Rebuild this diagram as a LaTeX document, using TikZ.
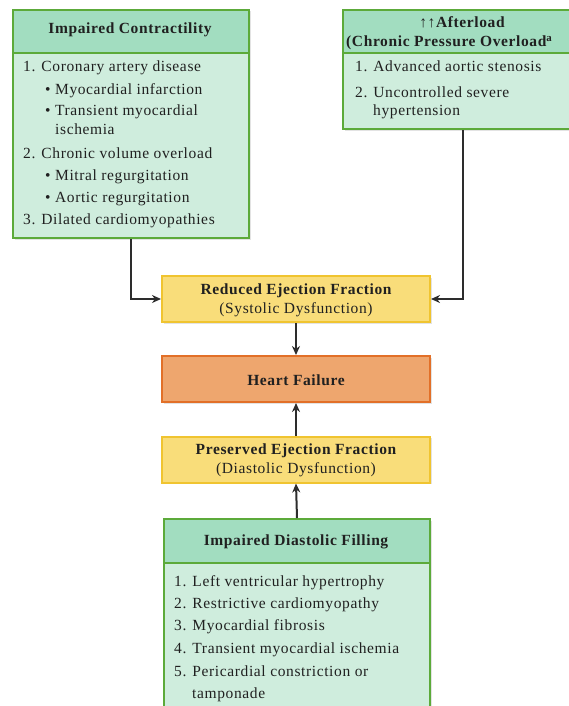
\documentclass[tikz,border=0pt]{standalone}
\usepackage{fontspec}
\setmainfont{Liberation Serif}[LetterSpace=4]
\usetikzlibrary{arrows.meta,shadows}
\definecolor{hdrgreen}{RGB}{162,221,192}
\definecolor{bodygreen}{RGB}{207,237,221}
\definecolor{boxgreen}{RGB}{92,170,58}
\definecolor{yfill}{RGB}{249,221,122}
\definecolor{yborder}{RGB}{240,196,48}
\definecolor{ofill}{RGB}{238,166,110}
\definecolor{oborder}{RGB}{226,112,40}
\definecolor{textc}{RGB}{32,32,32}
\definecolor{arrc}{RGB}{45,45,45}
\tikzset{
  shad/.style={drop shadow={opacity=0.22,shadow xshift=1.5pt,shadow yshift=-1.5pt}},
  gbody/.style={draw=boxgreen,line width=2pt,fill=bodygreen,inner sep=0pt,shad},
  ghdr/.style={draw=boxgreen,line width=2pt,fill=hdrgreen,inner sep=0pt},
  ybox/.style={draw=yborder,line width=2pt,fill=yfill,inner sep=0pt,shad,minimum width=268pt,minimum height=46pt},
  obox/.style={draw=oborder,line width=2pt,fill=ofill,inner sep=0pt,shad,minimum width=268pt,minimum height=46pt},
  txt/.style={inner sep=0pt,text=textc,font=\fontsize{15.5}{18}\selectfont},
  btxt/.style={txt,font=\fontsize{15.5}{18}\selectfont\bfseries},
  arr/.style={draw=arrc,line width=2pt,-{Stealth[length=9pt,width=8pt]}}
}
\begin{document}
\begin{tikzpicture}[x=1pt,y=-1pt]
\useasboundingbox (0,0) rectangle (568,706);
% Impaired Contractility
\node[gbody,minimum width=236pt,minimum height=228pt,anchor=north west] (ic) at (12,9) {};
\node[ghdr,minimum width=236pt,minimum height=43pt,anchor=north west] (ich) at (12,9) {};
\node[btxt,anchor=base] (icht) at (130,34) {Impaired Contractility};
\node[txt,anchor=base west] (ic1) at (23,72) {1. Coronary artery disease};
\node[txt,anchor=base west] (ic2) at (45,95) {• Myocardial infarction};
\node[txt,anchor=base west] (ic3) at (45,116) {• Transient myocardial};
\node[txt,anchor=base west] (ic4) at (55,134) {ischemia};
\node[txt,anchor=base west] (ic5) at (23,158) {2. Chronic volume overload};
\node[txt,anchor=base west] (ic6) at (45,180) {• Mitral regurgitation};
\node[txt,anchor=base west] (ic7) at (45,202) {• Aortic regurgitation};
\node[txt,anchor=base west] (ic8) at (23,224) {3. Dilated cardiomyopathies};
% Afterload
\node[gbody,minimum width=240pt,minimum height=119pt,anchor=north west] (ao) at (342,9) {};
\node[ghdr,minimum width=240pt,minimum height=43pt,anchor=north west] (aoh) at (342,9) {};
\node[btxt,anchor=base] (aoh1) at (462,28) {↑↑Afterload};
\node[btxt,anchor=base west] (aoh2) at (346,47) {(Chronic Pressure Overload\textsuperscript{a}};
\node[txt,anchor=base west] (ao1) at (355,72) {1. Advanced aortic stenosis};
\node[txt,anchor=base west] (ao2) at (355,98) {2. Uncontrolled severe};
\node[txt,anchor=base west] (ao3) at (373,116) {hypertension};
% Middle column
\node[ybox] (ref) at (296,299) {};
\node[btxt,anchor=base] (ref1) at (296,294) {Reduced Ejection Fraction};
\node[txt,anchor=base] (ref2) at (296,313) {(Systolic Dysfunction)};
\node[obox] (hf) at (296,379) {};
\node[btxt,anchor=base] (hft) at (296,385) {Heart Failure};
\node[ybox] (pef) at (296,459.5) {};
\node[btxt,anchor=base] (pef1) at (296,454) {Preserved Ejection Fraction};
\node[txt,anchor=base] (pef2) at (296,473) {(Diastolic Dysfunction)};
% Impaired Diastolic Filling
\node[gbody,minimum width=266pt,minimum height=210pt,anchor=north west] (idf) at (163,518) {};
\node[ghdr,minimum width=266pt,minimum height=44pt,anchor=north west] (idfh) at (163,518) {};
\node[btxt,anchor=base] (idft) at (296,545) {Impaired Diastolic Filling};
\node[txt,anchor=base west] (idf1) at (174,586) {1. Left ventricular hypertrophy};
\node[txt,anchor=base west] (idf2) at (174,608) {2. Restrictive cardiomyopathy};
\node[txt,anchor=base west] (idf3) at (174,630) {3. Myocardial fibrosis};
\node[txt,anchor=base west] (idf4) at (174,653) {4. Transient myocardial ischemia};
\node[txt,anchor=base west] (idf5) at (174,676) {5. Pericardial constriction or};
\node[txt,anchor=base west] (idf6) at (192,698) {tamponade};
% Connectors
\draw[arr] (ic.south) |- (ref.west);
\draw[arr] (ao.south) |- (ref.east);
\draw[arr] (ref.south) -- (hf.north);
\draw[arr] (pef.north) -- (hf.south);
\draw[arr] (idf.north) -- (pef.south);
\end{tikzpicture}
\end{document}
